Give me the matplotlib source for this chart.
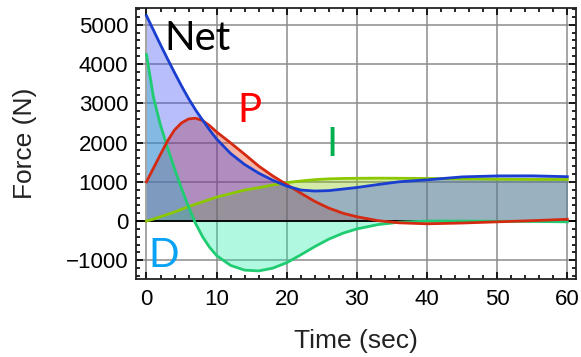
import numpy as np
import matplotlib.pyplot as plt
from matplotlib.ticker import MultipleLocator

# time samples (sec)
time = [0, 1, 2, 3, 4, 5, 6, 7, 8, 9, 10, 12, 14, 16, 18, 20, 22, 24, 26, 28,
        30, 33, 36, 40, 45, 50, 55, 60]

# force values (N)
net = [5230, 4860, 4490, 4130, 3780, 3440, 3120, 2830, 2570, 2320, 2090, 1720,
       1440, 1220, 1040, 890, 790, 765, 775, 815, 855, 930, 1000, 1050, 1125,
       1150, 1152, 1130]
p_term = [1000, 1350, 1700, 2040, 2320, 2500, 2600, 2620, 2560, 2430, 2270, 1990,
          1700, 1400, 1150, 930, 710, 500, 330, 200, 110, 10, -45, -70, -50,
          -20, 10, 45]
i_term = [0, 50, 110, 170, 230, 300, 370, 430, 490, 550, 610, 700, 790, 850,
          920, 980, 1020, 1055, 1075, 1085, 1090, 1093, 1090, 1085, 1075, 1065,
          1060, 1060]
d_term = [4240, 3150, 2440, 1870, 1330, 830, 360, -60, -400, -670, -880, -1130,
          -1250, -1270, -1200, -1060, -860, -650, -460, -310, -200, -90, -30,
          0, 0, -5, -10, -20]

x_ticks = [0, 10, 20, 30, 40, 50, 60]
y_ticks = [-1000, 0, 1000, 2000, 3000, 4000, 5000]

t = np.array(time)

plt.rcParams['font.family'] = ['Liberation Sans', 'DejaVu Sans']

fig = plt.figure(figsize=(5.81, 3.57), dpi=100)
ax = fig.add_axes([0.234, 0.218, 0.757, 0.760])

# filled areas down to the time axis
ax.fill_between(t, p_term, 0, color=(226/255, 41/255, 0), alpha=0.35, lw=0)
ax.fill_between(t, i_term, 0, color=(130/255, 200/255, 0), alpha=0.35, lw=0)
ax.fill_between(t, d_term, 0, color=(29/255, 235/255, 166/255), alpha=0.35, lw=0)
ax.fill_between(t, net, 0, color=(50/255, 70/255, 240/255), alpha=0.35, lw=0)

ax.axhline(0, color='black', lw=1.3, zorder=3)

ax.plot(t, i_term, color='#8cc800', lw=2.0, zorder=4)
ax.plot(t, d_term, color='#1fcc72', lw=2.0, zorder=4)
ax.plot(t, p_term, color='#d42a12', lw=2.0, zorder=4)
ax.plot(t, net, color='#1a3ed0', lw=2.0, zorder=5)

# curve names
lab = dict(fontsize=29, ha='center', va='baseline', family=['Lato', 'DejaVu Sans'], zorder=6)
ax.text(7.3, 4350, 'Net', color='black', **lab)
ax.text(14.7, 2530, 'P', color='#ff0000', **lab)
ax.text(26.4, 1650, 'I', color='#00b050', **lab)
ax.text(2.5, -1170, 'D', color='#0aa2f5', **lab)

ax.set_xlim(-1.5, 61.2)
ax.set_ylim(-1480, 5430)
ax.set_xticks(x_ticks)
ax.set_yticks(y_ticks)
ax.set_yticklabels(['\u22121000' if v < 0 else str(v) for v in y_ticks])
ax.xaxis.set_minor_locator(MultipleLocator(2))
ax.yaxis.set_minor_locator(MultipleLocator(200))
ax.tick_params(which='both', direction='in', top=True, right=True, width=1.2,
               colors='black')
ax.tick_params(which='major', length=5, labelsize=16)
ax.tick_params(which='minor', length=3)
ax.tick_params(axis='x', pad=7)
ax.tick_params(axis='y', pad=5.5)

ax.grid(True, which='major', color='#8c8c8c', lw=1.1, zorder=0)
ax.set_axisbelow(True)
for s in ax.spines.values():
    s.set_color('#222222')
    s.set_linewidth(1.3)

ax.set_xlabel('Time (sec)', fontsize=19, color='#222222', labelpad=14)
ax.set_ylabel('Force (N)', fontsize=19, color='#222222', labelpad=21)

fig.savefig('out.png', dpi=100)
